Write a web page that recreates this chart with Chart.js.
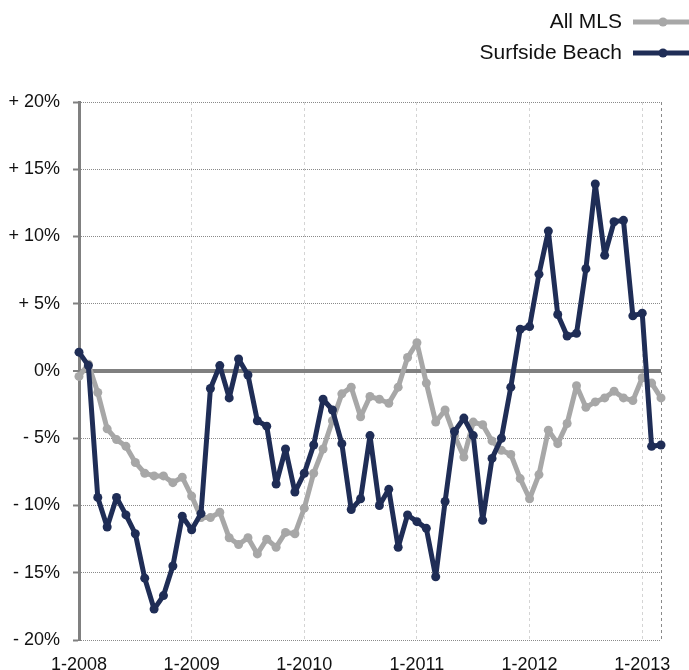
<!DOCTYPE html>
<html>
<head>
<meta charset="utf-8">
<script src="https://cdn.jsdelivr.net/npm/chart.js@4.4.1/dist/chart.umd.min.js"></script>
<style>
  html, body { margin: 0; padding: 0; background: #fff; }
  canvas { display: block; }
</style>
</head>
<body>
<canvas id="chart" width="689" height="670"></canvas>
<script>
// monthly change, Jan 2008 - Mar 2013 (%)
var years = [2008, 2009, 2010, 2011, 2012, 2013]
var xTickLabels = ['1-2008', '1-2009', '1-2010', '1-2011', '1-2012', '1-2013']
var yTickValues = [20, 15, 10, 5, 0, -5, -10, -15, -20]
var yTickLabels = ['+ 20%', '+ 15%', '+ 10%', '+ 5%', '0%', '- 5%', '- 10%', '- 15%', '- 20%']

var allMls = [
  -0.4, 0.5, -1.6, -4.3, -5.1, -5.6, -6.8, -7.6, -7.8, -7.8, -8.3, -7.9,
  -9.3, -10.9, -10.9, -10.5, -12.4, -12.9, -12.4, -13.6, -12.5, -13.1, -12.0, -12.1,
  -10.2, -7.6, -5.8, -3.7, -1.7, -1.2, -3.4, -1.9, -2.1, -2.4, -1.2, 1.0,
  2.1, -0.9, -3.8, -2.9, -4.8, -6.4, -3.8, -4.0, -5.2, -5.9, -6.2, -8.0,
  -9.5, -7.7, -4.4, -5.4, -3.9, -1.1, -2.7, -2.3, -2.0, -1.5, -2.0, -2.2,
  -0.5, -0.9, -2.0
]
var surfside = [
  1.4, 0.4, -9.4, -11.6, -9.4, -10.7, -12.1, -15.4, -17.7, -16.7, -14.5, -10.8,
  -11.8, -10.6, -1.3, 0.4, -2.0, 0.9, -0.3, -3.7, -4.1, -8.4, -5.8, -9.0,
  -7.6, -5.5, -2.1, -2.9, -5.4, -10.3, -9.5, -4.8, -10.0, -8.8, -13.1, -10.7,
  -11.2, -11.7, -15.3, -9.7, -4.5, -3.5, -4.8, -11.1, -6.5, -5.0, -1.2, 3.1,
  3.3, 7.2, 10.4, 4.2, 2.6, 2.8, 7.6, 13.9, 8.6, 11.1, 11.2, 4.1,
  4.3, -5.6, -5.5
]

var months = []
for (var i = 0; i < years.length; i++) {
  for (var m = 1; m <= 12 && months.length < allMls.length; m++) {
    months.push(m + '-' + years[i])
  }
}

var FONT = '"Liberation Sans", Arial, Helvetica, sans-serif'
var navy = '#1f2d56'
var grey = '#a7a7a7'

Chart.defaults.font.family = FONT
Chart.defaults.font.size = 18
Chart.defaults.color = '#111'

// legend: text first, line sample on the right, one entry per row
var sideLegend = {
  id: 'sideLegend',
  afterDraw: function(chart) {
    var ctx = chart.ctx
    chart.data.datasets.forEach(function(ds, i) {
      var y = 22 + i * 31
      ctx.save()
      ctx.font = '21px ' + FONT
      ctx.fillStyle = '#111'
      ctx.textAlign = 'right'
      ctx.textBaseline = 'middle'
      ctx.fillText(ds.label, 622, y)
      ctx.strokeStyle = ds.borderColor
      ctx.lineWidth = 5
      ctx.beginPath()
      ctx.moveTo(633, y)
      ctx.lineTo(695, y)
      ctx.stroke()
      ctx.fillStyle = ds.borderColor
      ctx.beginPath()
      ctx.arc(663, y, 4.5, 0, Math.PI * 2)
      ctx.fill()
      ctx.restore()
    })
  }
}

var ctx = document.getElementById('chart')
var chart = new Chart(ctx, {
  type: 'line',
  data: {
    labels: months,
    datasets: [{
      label: 'All MLS',
      data: allMls,
      borderColor: grey,
      backgroundColor: grey,
      borderWidth: 5,
      borderJoinStyle: 'round',
      borderCapStyle: 'round',
      pointRadius: 4.5,
      pointBorderWidth: 0,
      pointBackgroundColor: grey,
      clip: false,
      order: 2
    }, {
      label: 'Surfside Beach',
      data: surfside,
      borderColor: navy,
      backgroundColor: navy,
      borderWidth: 5,
      borderJoinStyle: 'round',
      borderCapStyle: 'round',
      pointRadius: 4.5,
      pointBorderWidth: 0,
      pointBackgroundColor: navy,
      clip: false,
      order: 1
    }]
  },
  options: {
    responsive: false,
    animation: false,
    devicePixelRatio: 1,
    layout: { padding: { top: 102, right: 28, left: 0, bottom: 0 } },
    plugins: {
      legend: { display: false },
      title: { display: false },
      tooltip: { enabled: false }
    },
    scales: {
      x: {
        type: 'category',
        offset: false,
        afterFit: function(s) { s.height = 30 },
        border: { display: false, dash: [3, 3] },
        grid: {
          drawTicks: false,
          lineWidth: 1,
          color: function(c) {
            var i = c.index
            if (i === months.length - 1) return '#8a8a8a'
            if (i > 0 && xTickLabels.indexOf(months[i]) >= 0) return '#d4d4d4'
            return 'rgba(0,0,0,0)'
          }
        },
        ticks: {
          autoSkip: false,
          maxRotation: 0,
          padding: 14,
          callback: function(v, i) {
            return xTickLabels.indexOf(months[i]) >= 0 ? months[i] : ''
          }
        }
      },
      y: {
        min: -20,
        max: 20,
        afterFit: function(s) { s.width = 79 },
        afterBuildTicks: function(s) {
          s.ticks = yTickValues.map(function(v) { return { value: v } })
        },
        border: {
          display: true,
          color: '#808080',
          width: 3,
          dash: function(c) { return c.tick && c.tick.value === 0 ? [] : [1, 1] }
        },
        grid: {
          color: function(c) { return c.tick && c.tick.value === 0 ? '#808080' : '#8a8a8a' },
          lineWidth: function(c) { return c.tick && c.tick.value === 0 ? 4 : 1 },
          tickColor: '#808080',
          tickWidth: 2,
          tickLength: 6,
          tickBorderDash: []
        },
        ticks: {
          padding: 13,
          callback: function(v) {
            var k = yTickValues.indexOf(v)
            return k >= 0 ? yTickLabels[k] : ''
          }
        }
      }
    }
  },
  plugins: [sideLegend]
})
</script>
</body>
</html>
